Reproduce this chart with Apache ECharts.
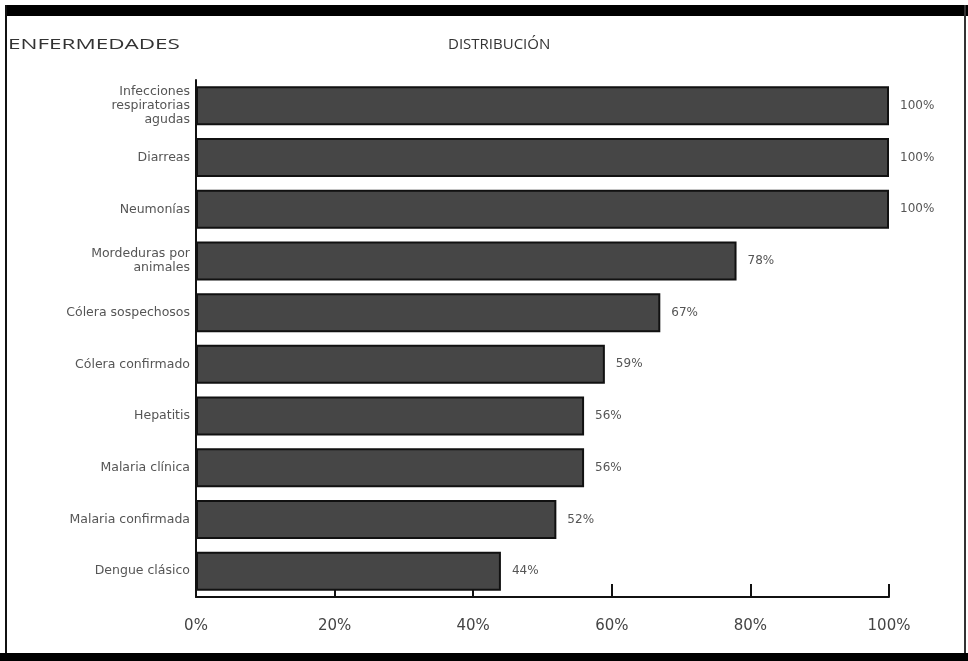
<!DOCTYPE html>
<html>
<head>
<meta charset="utf-8">
<script src="https://cdn.jsdelivr.net/npm/echarts@6/dist/echarts.min.js"></script>
<style>
html,body{margin:0;padding:0;background:#fff;}
#chart{width:968px;height:661px;}
</style>
</head>
<body>
<div id="chart"></div>
<script>
const categories = [
  "Infecciones\nrespiratorias\nagudas",
  "Diarreas",
  "Neumonías",
  "Mordeduras por\nanimales",
  "Cólera sospechosos",
  "Cólera confirmado",
  "Hepatitis",
  "Malaria clínica",
  "Malaria confirmada",
  "Dengue clásico"
];
const values = [100, 100, 100, 78, 67, 59, 56, 56, 52, 44];
const xTicks = [0, 20, 40, 60, 80, 100];
const headerLeft = "ENFERMEDADES";
const headerCenter = "DISTRIBUCIÓN";

const FONT = '"DejaVu Sans", "Open Sans", sans-serif';
const HFONT = '"Open Sans", "DejaVu Sans", sans-serif';
const chart = echarts.init(document.getElementById('chart'), null, {renderer: 'canvas'});
chart.setOption({
  backgroundColor: '#fff',
  animation: false,
  grid: {left: 196, right: 79, top: 80, bottom: 64},
  xAxis: {
    type: 'value',
    min: xTicks[0],
    max: xTicks[xTicks.length - 1],
    interval: 20,
    axisLine: {show: true, lineStyle: {color: '#111', width: 2}},
    axisTick: {show: true, inside: true, length: 13, lineStyle: {color: '#111', width: 2}},
    splitLine: {show: false},
    axisLabel: {formatter: '{value}%', fontFamily: FONT, fontSize: 15, color: '#444', margin: 22}
  },
  yAxis: {
    type: 'category',
    data: categories,
    inverse: true,
    axisLine: {show: true, lineStyle: {color: '#111', width: 2}},
    axisTick: {show: false},
    axisLabel: {fontFamily: FONT, fontSize: 12.5, color: '#555', margin: 6, lineHeight: 14, align: 'right'}
  },
  series: [{
    type: 'bar',
    data: values,
    barWidth: 39,
    itemStyle: {color: '#464646', borderColor: '#111', borderWidth: 2},
    label: {show: true, position: 'right', distance: 11, formatter: '{c}%', fontFamily: FONT, fontSize: 12, color: '#555'}
  }],
  graphic: [
    {type: 'rect', shape: {x: 5, y: 5, width: 963, height: 11}, style: {fill: '#000'}},
    {type: 'rect', shape: {x: 5, y: 5, width: 2, height: 650}, style: {fill: '#111'}},
    {type: 'rect', shape: {x: 964, y: 5, width: 2, height: 650}, style: {fill: '#333'}},
    {type: 'rect', shape: {x: 0, y: 653, width: 968, height: 8}, style: {fill: '#000'}},
    {type: 'text', x: 8, y: 37, scaleX: 1.5, style: {text: headerLeft, fontFamily: HFONT, fontSize: 15, fill: '#333'}},
    {type: 'text', x: 448, y: 37, style: {text: headerCenter, fontFamily: HFONT, fontSize: 15, fill: '#333'}}
  ]
});
</script>
</body>
</html>
